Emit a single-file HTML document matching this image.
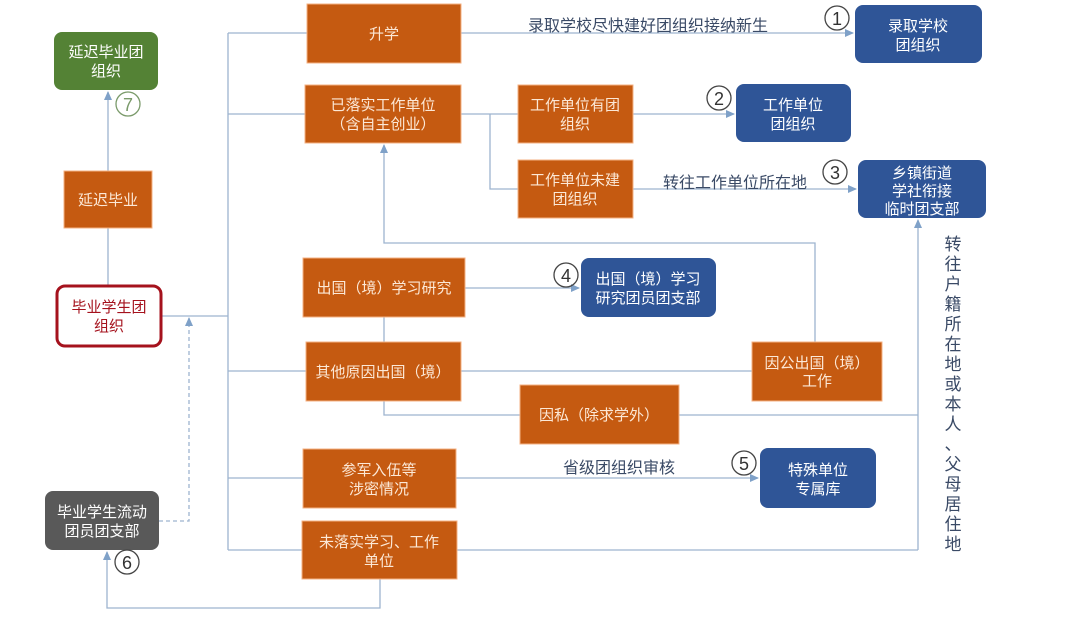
<!DOCTYPE html>
<html><head><meta charset="utf-8"><style>
body{margin:0;background:#fff;}
svg{display:block;font-family:"Liberation Sans","Noto Sans CJK SC",sans-serif;}
.o{fill:#C55A11;stroke:#F4B183;stroke-width:1}
.b{fill:#2F5597}
.t{fill:#fff;font-size:15px;text-anchor:middle}
.ot{fill:#FCE8D6;font-size:15px;text-anchor:middle}
.l{stroke:#9DB4CF;stroke-width:1.3;fill:none}
.lab{fill:#3A4A66;font-size:16px}
.c{fill:none;stroke:#444;stroke-width:1.3}
.cn{font-size:18px;fill:#333;text-anchor:middle}
</style></head><body>
<svg width="1076" height="625" viewBox="0 0 1076 625">
<defs><marker id="a" markerWidth="10" markerHeight="10" refX="8" refY="4" orient="auto" markerUnits="userSpaceOnUse"><path d="M0,0 L9,4 L0,8z" fill="#7FA1C8"/></marker></defs>
<g class="l">
<path d="M162,316 H228 M228,33 V550 M228,33 H307 M228,114 H305 M228,371 H306 M228,478 H303 M228,550 H302"/>
<path d="M461,33 H853" marker-end="url(#a)"/>
<path d="M461,114 H518 M490,114 V189 H518"/>
<path d="M633,114 H734" marker-end="url(#a)"/>
<path d="M633,189 H856" marker-end="url(#a)"/>
<path d="M815,342 V243 H384 V145" marker-end="url(#a)"/>
<path d="M465,288 H579" marker-end="url(#a)"/>
<path d="M384,317 V342 M461,371 H752 M384,401 V415 H520 M679,415 H918 M457,550 H918"/>
<path d="M918,550 V220" marker-end="url(#a)"/>
<path d="M456,478 H758" marker-end="url(#a)"/>
<path d="M380,579 V608 H107 V552" marker-end="url(#a)"/>
<path d="M108,285 V228 M108,171 V92" marker-end="url(#a)"/>
<path d="M159,521 H189 V318" stroke-dasharray="4,3" marker-end="url(#a)"/>
</g>
<rect class="o" x="307" y="4" width="154" height="59"/><text class="ot" x="384" y="39">升学</text>
<rect class="o" x="305" y="85" width="156" height="58"/><text class="ot" x="383" y="110">已落实工作单位</text><text class="ot" x="383" y="129">（含自主创业）</text>
<rect class="o" x="518" y="85" width="115" height="58"/><text class="ot" x="575" y="110">工作单位有团</text><text class="ot" x="575" y="129">组织</text>
<rect class="o" x="518" y="160" width="115" height="58"/><text class="ot" x="575" y="185">工作单位未建</text><text class="ot" x="575" y="204">团组织</text>
<rect class="o" x="303" y="258" width="162" height="59"/><text class="ot" x="384" y="293">出国（境）学习研究</text>
<rect class="o" x="306" y="342" width="155" height="59"/><text class="ot" x="383" y="377">其他原因出国（境）</text>
<rect class="o" x="752" y="342" width="130" height="59"/><text class="ot" x="817" y="368">因公出国（境）</text><text class="ot" x="817" y="386">工作</text>
<rect class="o" x="520" y="385" width="159" height="59"/><text class="ot" x="599" y="420">因私（除求学外）</text>
<rect class="o" x="303" y="449" width="153" height="59"/><text class="ot" x="379" y="475">参军入伍等</text><text class="ot" x="379" y="494">涉密情况</text>
<rect class="o" x="302" y="521" width="155" height="58"/><text class="ot" x="379" y="547">未落实学习、工作</text><text class="ot" x="379" y="566">单位</text>
<rect class="o" x="64" y="171" width="88" height="57"/><text class="ot" x="108" y="205">延迟毕业</text>
<rect class="b" x="855" y="5" width="127" height="58" rx="8"/><text class="t" x="918" y="31">录取学校</text><text class="t" x="918" y="50">团组织</text>
<rect class="b" x="736" y="84" width="115" height="58" rx="8"/><text class="t" x="793" y="110">工作单位</text><text class="t" x="793" y="129">团组织</text>
<rect class="b" x="858" y="160" width="128" height="58" rx="8"/><text class="t" x="922" y="178">乡镇街道</text><text class="t" x="922" y="196">学社衔接</text><text class="t" x="922" y="214">临时团支部</text>
<rect class="b" x="581" y="258" width="135" height="59" rx="8"/><text class="t" x="648" y="284">出国（境）学习</text><text class="t" x="648" y="303">研究团员团支部</text>
<rect class="b" x="760" y="448" width="116" height="60" rx="8"/><text class="t" x="818" y="475">特殊单位</text><text class="t" x="818" y="494">专属库</text>
<rect x="54" y="32" width="104" height="58" rx="8" fill="#548235"/><text class="t" x="106" y="57">延迟毕业团</text><text class="t" x="106" y="76">组织</text>
<rect x="57" y="286" width="104" height="60" rx="8" fill="#fff" stroke="#A5121D" stroke-width="3"/><text class="t" x="109" y="312" style="fill:#A5121D">毕业学生团</text><text class="t" x="109" y="331" style="fill:#A5121D">组织</text>
<rect x="45" y="491" width="114" height="59" rx="8" fill="#595959"/><text class="t" x="102" y="517">毕业学生流动</text><text class="t" x="102" y="536">团员团支部</text>
<text class="lab" x="528" y="31">录取学校尽快建好团组织接纳新生</text>
<text class="lab" x="663" y="188">转往工作单位所在地</text>
<text class="lab" x="563" y="473">省级团组织审核</text>
<g class="lab" style="text-anchor:middle;font-size:17px">
<text x="953" y="250">转</text><text x="953" y="270">往</text><text x="953" y="290">户</text><text x="953" y="310">籍</text><text x="953" y="330">所</text><text x="953" y="350">在</text><text x="953" y="370">地</text><text x="953" y="390">或</text><text x="953" y="410">本</text><text x="953" y="430">人</text><text x="953" y="450">、</text><text x="953" y="470">父</text><text x="953" y="490">母</text><text x="953" y="510">居</text><text x="953" y="530">住</text><text x="953" y="550">地</text>
</g>
<circle class="c" cx="837" cy="18" r="12"/><text class="cn" x="837" y="25">1</text>
<circle class="c" cx="719" cy="98" r="12"/><text class="cn" x="719" y="105">2</text>
<circle class="c" cx="835" cy="172" r="12"/><text class="cn" x="835" y="179">3</text>
<circle class="c" cx="566" cy="275" r="12"/><text class="cn" x="566" y="282">4</text>
<circle class="c" cx="744" cy="463" r="12"/><text class="cn" x="744" y="470">5</text>
<circle class="c" cx="127" cy="562" r="12"/><text class="cn" x="127" y="569">6</text>
<circle cx="128" cy="104" r="12" fill="none" stroke="#7A9A6A" stroke-width="1.3"/><text class="cn" x="128" y="111" style="fill:#7A9A6A">7</text>
</svg>
</body></html>
